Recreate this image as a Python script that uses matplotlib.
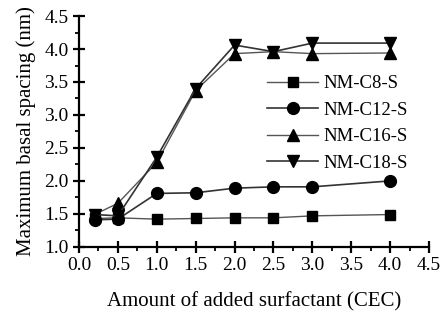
import numpy as np
import matplotlib
matplotlib.use("Agg")
import matplotlib.pyplot as plt
from matplotlib.ticker import MultipleLocator

plt.rcParams['font.family'] = ['Liberation Serif', 'DejaVu Serif']

# data
cec = [0.2, 0.5, 1.0, 1.5, 2.0, 2.5, 3.0, 4.0]
c8 = [1.43, 1.44, 1.42, 1.43, 1.44, 1.44, 1.47, 1.49]
c12 = [1.41, 1.42, 1.81, 1.82, 1.89, 1.91, 1.91, 2.00]
c16 = [1.49, 1.66, 2.28, 3.37, 3.93, 3.96, 3.93, 3.94]
c18 = [1.49, 1.47, 2.36, 3.40, 4.06, 3.96, 4.09, 4.09]
names = ["NM-C8-S", "NM-C12-S", "NM-C16-S", "NM-C18-S"]

fig = plt.figure(figsize=(4.41, 3.21), dpi=100)
ax = fig.add_axes([0.179, 0.231, 0.794, 0.719])

ax.plot(cec, c8, '-s', color='#555555', mfc='black', mec='black', ms=7.5, lw=1, label=names[0])
ax.plot(cec, c12, '-o', color='#333333', mfc='black', mec='black', ms=8.5, lw=1.2, label=names[1])
ax.plot(cec, c16, '-^', color='#555555', mfc='black', mec='black', ms=8.5, lw=1, label=names[2])
ax.plot(cec, c18, '-v', color='#333333', mfc='black', mec='black', ms=8.5, lw=1.2, label=names[3])

ax.set_xlim(0, 4.5)
ax.set_ylim(1.0, 4.5)
ax.xaxis.set_major_locator(MultipleLocator(0.5))
ax.xaxis.set_minor_locator(MultipleLocator(0.25))
ax.yaxis.set_major_locator(MultipleLocator(0.5))
ax.yaxis.set_minor_locator(MultipleLocator(0.25))
ax.spines['top'].set_visible(False)
ax.spines['right'].set_visible(False)
ax.spines['left'].set_linewidth(1.6)
ax.spines['bottom'].set_linewidth(1.6)
ax.tick_params(which='major', direction='inout', length=8, width=1.6, labelsize=14)
ax.tick_params(which='minor', direction='out', length=3, width=1.3)

ax.set_xlabel("Amount of added surfactant (CEC)", fontsize=15, labelpad=13)
ax.set_ylabel("Maximum basal spacing (nm)", fontsize=15, labelpad=6)

ax.legend(loc='upper left', bbox_to_anchor=(0.51, 0.785), frameon=False, fontsize=13.5,
          handlelength=2.75, handletextpad=0.25, labelspacing=0.5, borderpad=0)

fig.savefig("out.png", dpi=100)
